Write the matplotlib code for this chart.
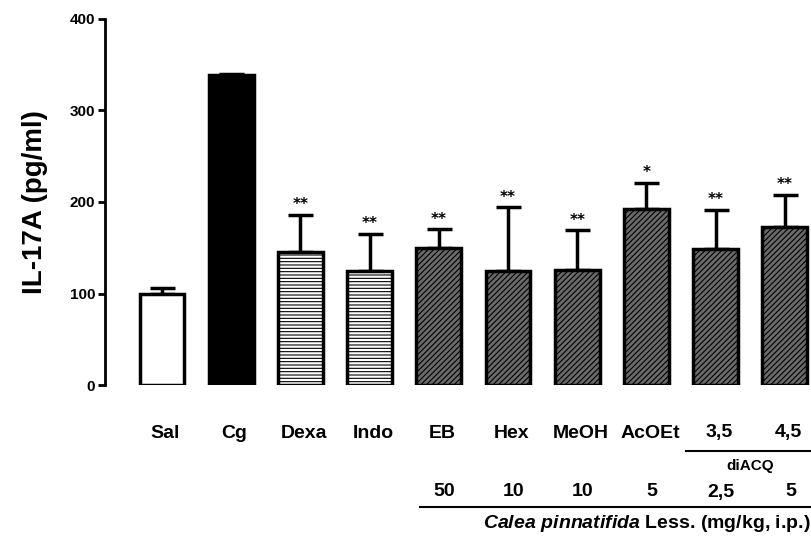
import matplotlib
matplotlib.use('Agg')
import matplotlib.pyplot as plt
import matplotlib.transforms as mtransforms
from matplotlib.lines import Line2D

groups = ["Sal", "Cg", "Dexa", "Indo", "EB", "Hex", "MeOH", "AcOEt", "3,5", "4,5"]
means = [100, 339, 145, 125, 150, 125, 126, 192, 149, 173]
sem = [6, 1, 41, 40, 20, 69, 43, 29, 42, 35]
stars = ["", "", "**", "**", "**", "**", "**", "*", "**", "**"]
doses = ["50", "10", "10", "5", "2,5", "5"]

plt.rcParams['font.family'] = ['Liberation Sans', 'DejaVu Sans']
plt.rcParams['hatch.linewidth'] = 0.8
plt.rcParams['mathtext.fontset'] = 'custom'
plt.rcParams['mathtext.it'] = 'Liberation Sans:italic:bold'
plt.rcParams['mathtext.rm'] = 'Liberation Sans:bold'

fig = plt.figure(figsize=(8.12, 5.36), dpi=100)
ax = fig.add_axes([0.1293, 0.2817, 0.8682, 0.6829])

x = list(range(len(groups)))
faces = ["white", "black", "white", "white"] + ["#6a6a6a"] * 6
hatches = [None, None, "-----", "-----"] + ["//////"] * 6

for i in x:
    ax.bar(i, means[i], width=0.65, color=faces[i], edgecolor="black",
           linewidth=2.5, hatch=hatches[i], zorder=2)
    ax.errorbar(i, means[i], yerr=[[0], [sem[i]]], fmt="none", ecolor="black",
                elinewidth=2.5, capsize=9, capthick=2.5, zorder=1)
    if stars[i]:
        ax.text(i, means[i] + sem[i] + 3, stars[i], ha="center", va="bottom",
                fontsize=11, fontweight="bold", family="DejaVu Sans")

ax.set_xlim(-0.824, 9.364)
ax.set_ylim(0, 400)
ax.set_yticks([0, 100, 200, 300, 400])
ax.tick_params(axis='y', width=2, length=5, labelsize=11, pad=2)
for lab in ax.get_yticklabels():
    lab.set_fontweight("bold")
ax.set_xticks([])
for s in ["top", "right", "bottom"]:
    ax.spines[s].set_visible(False)
ax.spines["left"].set_linewidth(2)
ax.set_ylabel("IL-17A (pg/ml)", fontsize=20, fontweight="bold", labelpad=16)

blend = mtransforms.blended_transform_factory(ax.transData, fig.transFigure)
for i, g in enumerate(groups):
    ax.text(i + 0.05, 1 - 433 / 536, g, transform=blend, ha="center", va="center",
            fontsize=14, fontweight="bold")
for j, d in enumerate(doses):
    ax.text(4 + j + 0.08, 1 - 492 / 536, d, transform=blend, ha="center", va="center",
            fontsize=14, fontweight="bold")

fig.add_artist(Line2D([7.57, 9.4], [1 - 451 / 536] * 2, transform=blend,
                      color="black", linewidth=1.5))
ax.text(8.5, 1 - 466 / 536, "diACQ", transform=blend, ha="center", va="center",
        fontsize=11, fontweight="bold")
fig.add_artist(Line2D([3.73, 9.4], [1 - 507 / 536] * 2, transform=blend,
                      color="black", linewidth=1.5))
ax.text(9.37, 1 - 523 / 536, r"$\it{Calea\ pinnatifida}$ Less. (mg/kg, i.p.)",
        transform=blend, ha="right", va="center", fontsize=14, fontweight="bold")

fig.savefig("out.png", dpi=100)
